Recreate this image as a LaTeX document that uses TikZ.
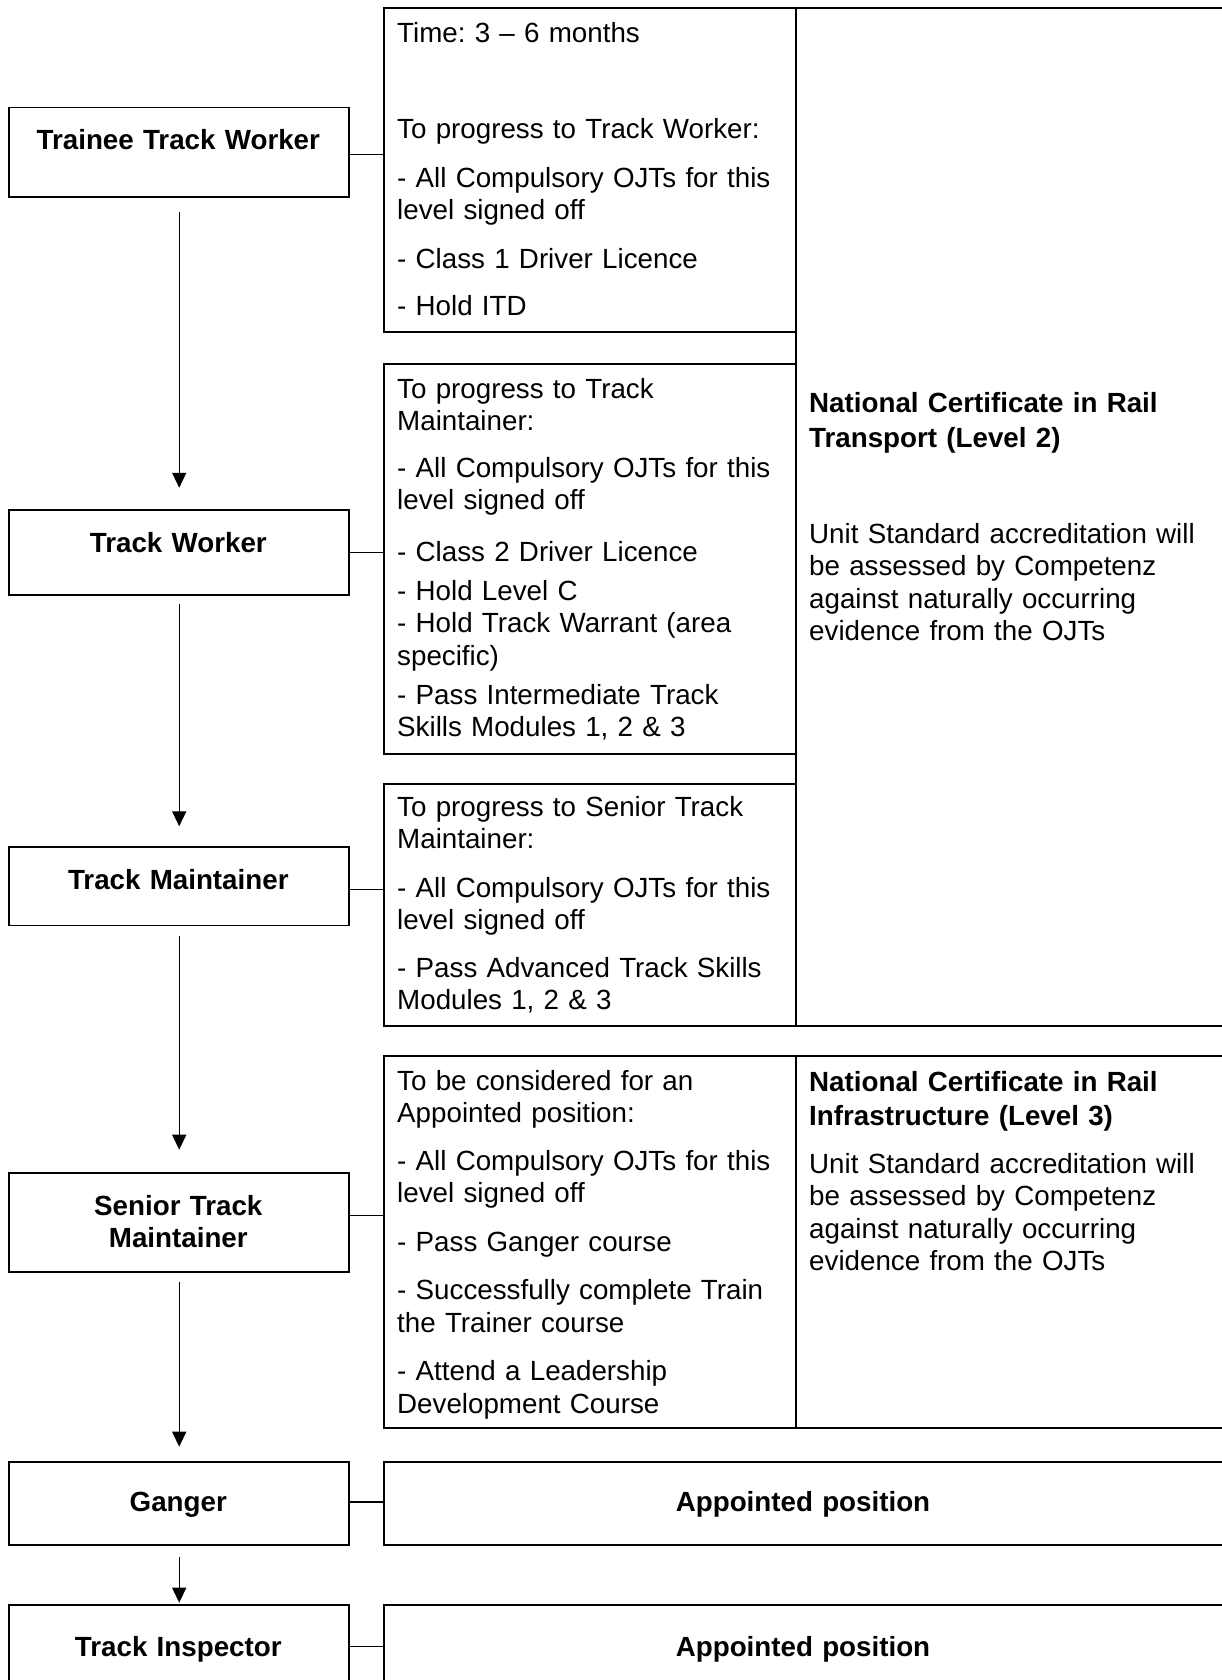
\documentclass[tikz,border=0pt]{standalone}
\usepackage{fontspec}
\setmainfont{Liberation Sans}
\usetikzlibrary{arrows.meta}
\newcommand{\txt}{\fontsize{27.75}{32.5}\selectfont\frenchspacing}
\begin{document}
\begin{tikzpicture}[x=1pt,y=-1pt,font=\txt,
    box/.style={draw,line width=1.8pt,inner sep=0pt,anchor=north west},
    stage/.style={font=\txt\bfseries,anchor=base,align=center,text width=330pt,inner sep=0pt},
    info/.style={anchor=base west,align=left,text width=400pt,inner sep=0pt},
    flow/.style={-{Triangle[length=15pt,width=14pt]},line width=1.4pt},
    link/.style={line width=1.1pt}]
  \useasboundingbox (0,0) rectangle (1222,1680);
  \clip (0,0) rectangle (1222,1680);
  % certificate cells and requirement boxes
  \node[box,minimum width=429pt,minimum height=1017.7pt] (cert2) at (795,7.3) {};
  \node[box,minimum width=429pt,minimum height=371.7pt] (cert3) at (795,1055) {};
  \foreach \n/\t/\h in {req1/7.3/323.7, req2/363/389.7, req3/783.3/241.7, req4/1055/371.7}
    \node[box,fill=white,minimum width=412.3pt,minimum height=\h pt] (\n) at (382.7,\t) {};
  \node[box,minimum width=841.3pt,minimum height=83.3pt] (app1) at (382.7,1460.7) {};
  \node[box,minimum width=841.3pt,minimum height=83.7pt] (app2) at (382.7,1604.3) {};
  % career stages
  \foreach \n/\t/\h in {trainee/106.7/89.3, worker/508.8/84.9, maint/846.3/78.3,
                       senior/1171.7/99.3, ganger/1460.7/83.3, inspect/1604.3/83.7}
    \node[box,minimum width=340pt,minimum height=\h pt] (\n) at (8.3,\t) {};
  \node[stage] (trainee-l) at (178.3,150) {Trainee Track Worker};
  \node[stage] (worker-l) at (178.3,552.6) {Track Worker};
  \node[stage] (maint-l) at (178.3,889.5) {Track Maintainer};
  \node[stage] (senior-l) at (178.3,1215) {Senior Track\\Maintainer};
  \node[stage] (ganger-l) at (178.3,1511) {Ganger};
  \node[stage] (inspect-l) at (178.3,1656) {Track Inspector};
  \node[stage] (app1-l) at (803,1511) {Appointed position};
  \node[stage] (app2-l) at (803,1656) {Appointed position};
  % requirements
  \node[info] (req1-l) at (397,42.7) {Time: 3 – 6 months\\[63pt]To progress to Track Worker:\\[16.5pt]- All Compulsory OJTs for this\\level signed off\\[16pt]- Class 1 Driver Licence\\[15pt]- Hold ITD};
  \node[info] (req2-l) at (397,398.3) {To progress to Track\\Maintainer:\\[14pt]- All Compulsory OJTs for this\\level signed off\\[19pt]- Class 2 Driver Licence\\[6.5pt]- Hold Level C\\- Hold Track Warrant (area\\specific)\\[6.5pt]- Pass Intermediate Track\\Skills Modules 1, 2 \& 3};
  \node[info] (req3-l) at (397,816) {To progress to Senior Track\\Maintainer:\\[16pt]- All Compulsory OJTs for this\\level signed off\\[15pt]- Pass Advanced Track Skills\\Modules 1, 2 \& 3};
  \node[info] (req4-l) at (397,1090) {To be considered for an\\Appointed position:\\[15pt]- All Compulsory OJTs for this\\level signed off\\[16pt]- Pass Ganger course\\[16pt]- Successfully complete Train\\the Trainer course\\[16pt]- Attend a Leadership\\Development Course};
  \node[info] (cert2-l) at (809,412.7) {\textbf{National Certificate in Rail}\\[2pt]\textbf{Transport (Level 2)}\\[63.5pt]Unit Standard accreditation will\\be assessed by Competenz\\against naturally occurring\\evidence from the OJTs};
  \node[info] (cert3-l) at (809,1091) {\textbf{National Certificate in Rail}\\[1.5pt]\textbf{Infrastructure (Level 3)}\\[15.5pt]Unit Standard accreditation will\\be assessed by Competenz\\against naturally occurring\\evidence from the OJTs};
  % links to the requirement boxes
  \foreach \a/\b/\d in {trainee/req1/-2.7, worker/req2/0, maint/req3/-3,
                       senior/req4/7, ganger/app1/1.3, inspect/app2/1} {
    \path ([yshift=\d pt]\a.east) coordinate (\a-c);
    \draw[link] (\a-c) -- (\a-c -| \b.west);
  }
  % progression arrows
  \foreach \a/\b/\s/\e in {trainee/worker/14/21, worker/maint/8/20, maint/senior/10/22,
                          senior/ganger/9/14, ganger/inspect/11/1.6}
    \draw[flow,shorten <=\s pt,shorten >=\e pt] (\a) -- (\b);
\end{tikzpicture}
\end{document}
